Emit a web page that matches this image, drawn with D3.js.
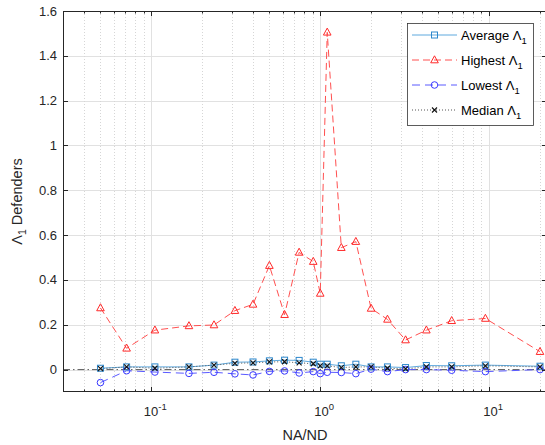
<!DOCTYPE html>
<html><head><meta charset="utf-8">
<script src="https://cdn.jsdelivr.net/npm/d3@7/dist/d3.min.js"></script>
<style>body{margin:0;background:#fff}svg{display:block;font-family:"Liberation Sans",Arial,sans-serif}</style>
</head><body><svg id="c" width="545" height="445"></svg>
<script>
const ratios = [0.05, 0.0714, 0.105, 0.167, 0.235, 0.3125, 0.4, 0.5, 0.615, 0.75, 0.909, 1.0, 1.1, 1.333, 1.625, 2.0, 2.5, 3.2, 4.25, 6.0, 9.5, 20];
const highest = [0.275, 0.095, 0.176, 0.195, 0.199, 0.263, 0.291, 0.464, 0.245, 0.523, 0.482, 0.340, 1.505, 0.544, 0.571, 0.273, 0.224, 0.132, 0.176, 0.218, 0.228, 0.08];
const average = [0.006, 0.012, 0.012, 0.012, 0.02, 0.033, 0.034, 0.039, 0.042, 0.041, 0.033, 0.024, 0.024, 0.017, 0.024, 0.012, 0.012, 0.009, 0.018, 0.017, 0.02, 0.015];
const median = [0.004, 0.012, 0.006, 0.012, 0.02, 0.028, 0.03, 0.034, 0.035, 0.03, 0.026, 0.017, 0.017, 0.009, 0.012, 0.012, 0.006, 0.003, 0.012, 0.012, 0.017, 0.012];
const lowest = [-0.058, -0.005, -0.011, -0.017, -0.012, -0.019, -0.024, -0.008, -0.006, -0.015, -0.009, -0.018, -0.012, -0.013, -0.018, 0.002, -0.009, 0.0, 0.0, -0.003, -0.009, 0.0];
const yTicks = [0, 0.2, 0.4, 0.6, 0.8, 1, 1.2, 1.4, 1.6];
const xMajor = [0.1, 1, 10];
const xMajorExp = ["-1", "0", "1"];
const xMinor = [0.03,0.04,0.05,0.06,0.07,0.08,0.09,0.2,0.3,0.4,0.5,0.6,0.7,0.8,0.9,2,3,4,5,6,7,8,9,20];
const legendNames = ["Average", "Highest", "Lowest", "Median"];

const svg = d3.select("#c");
const L = 63, R = 547, T = 11, B = 392;
const x = d3.scaleLog().domain([0.03, 22]).range([L, R]);
const y = d3.scaleLinear().domain([-0.1, 1.6]).range([B, T]);
const axisColor = "#262626";

svg.append("rect").attr("width",545).attr("height",445).attr("fill","#fff");
const g = svg.append("g");
// grid
g.selectAll(".gy").data(yTicks).join("line").attr("x1",L).attr("x2",R)
  .attr("y1",d=>Math.round(y(d))+0.5).attr("y2",d=>Math.round(y(d))+0.5).attr("stroke","#e1e1e1").attr("stroke-width",1);
g.selectAll(".gxm").data(xMinor).join("line").attr("y1",T).attr("y2",B)
  .attr("x1",d=>Math.round(x(d))+0.5).attr("x2",d=>Math.round(x(d))+0.5).attr("stroke","#d6d6d6").attr("stroke-width",1).attr("stroke-dasharray","1,2");
g.selectAll(".gx").data(xMajor).join("line").attr("y1",T).attr("y2",B)
  .attr("x1",d=>Math.round(x(d))+0.5).attr("x2",d=>Math.round(x(d))+0.5).attr("stroke","#e1e1e1").attr("stroke-width",1);

// zero line
g.append("line").attr("x1",L).attr("x2",R).attr("y1",y(0)).attr("y2",y(0))
  .attr("stroke","#333").attr("stroke-width",0.8).attr("stroke-dasharray","7,3,1.5,3");

const idx = d3.range(ratios.length);
const series = [
  {vals: average, color:"#5ea9de", mcolor:"#2c87cc", dash:null, marker:"square", width:1},
  {vals: highest, color:"#ff5050", mcolor:"#ff2a2a", dash:"7,4", marker:"triangle", width:1},
  {vals: lowest, color:"#5a5aff", mcolor:"#3a3aff", dash:"8,5", marker:"circle", width:1},
  {vals: median, color:"#555555", mcolor:"#111111", dash:"1,2", marker:"x", width:1}
];
function drawMarker(sel, type, color){
  if(type==="square") sel.append("rect").attr("x",-3).attr("y",-3).attr("width",6).attr("height",6).attr("fill","none").attr("stroke",color).attr("stroke-width",1);
  else if(type==="triangle") sel.append("path").attr("d","M0,-4.2L3.8,2.8L-3.8,2.8Z").attr("fill","none").attr("stroke",color).attr("stroke-width",1);
  else if(type==="circle") sel.append("circle").attr("r",3.3).attr("fill","none").attr("stroke",color).attr("stroke-width",1);
  else sel.append("path").attr("d","M-2.5,-2.5L2.5,2.5M-2.5,2.5L2.5,-2.5").attr("stroke",color).attr("stroke-width",1.1);
}
const line = d3.line();
series.forEach(s=>{
  g.append("path").attr("d", line(idx.map(i=>[x(ratios[i]), y(s.vals[i])])))
   .attr("fill","none").attr("stroke",s.color).attr("stroke-width",s.width)
   .attr("stroke-dasharray",s.dash);
});
series.forEach(s=>{
  idx.forEach(i=>{
    const m = g.append("g").attr("transform",`translate(${x(ratios[i])},${y(s.vals[i])})`);
    drawMarker(m, s.marker, s.mcolor);
  });
});

// axes box
svg.append("rect").attr("x",L+0.5).attr("y",T+0.5).attr("width",R-L-1).attr("height",B-T-1)
  .attr("fill","none").attr("stroke",axisColor).attr("stroke-width",1);
// ticks
const tk = svg.append("g").attr("stroke",axisColor).attr("stroke-width",1);
yTicks.forEach(v=>{
  const yy = Math.round(y(v))+0.5;
  tk.append("line").attr("x1",L).attr("x2",L+5).attr("y1",yy).attr("y2",yy);
  tk.append("line").attr("x1",R-5).attr("x2",R).attr("y1",yy).attr("y2",yy);
});
xMajor.forEach(v=>{
  const xx = Math.round(x(v))+0.5;
  tk.append("line").attr("x1",xx).attr("x2",xx).attr("y1",B).attr("y2",B-5);
  tk.append("line").attr("x1",xx).attr("x2",xx).attr("y1",T).attr("y2",T+5);
});
xMinor.forEach(v=>{
  const xx = Math.round(x(v))+0.5;
  tk.append("line").attr("x1",xx).attr("x2",xx).attr("y1",B).attr("y2",B-2.5);
  tk.append("line").attr("x1",xx).attr("x2",xx).attr("y1",T).attr("y2",T+2.5);
});
// tick labels
svg.selectAll(".yl").data(yTicks).join("text").attr("x",57).attr("y",d=>y(d)+4.5)
  .attr("text-anchor","end").attr("font-size",13).attr("fill",axisColor).text(d=>d3.format("")(d));
xMajor.forEach((v,i)=>{
  const t = svg.append("text").attr("x",x(v)+4).attr("y",416).attr("text-anchor","middle").attr("font-size",13).attr("fill",axisColor);
  t.append("tspan").text("10");
  t.append("tspan").attr("dy",-6).attr("font-size",9.5).text(xMajorExp[i]);
});
// axis labels
svg.append("text").attr("x",(L+R)/2).attr("y",440).attr("text-anchor","middle").attr("font-size",14.5).attr("fill",axisColor).text("NA/ND");
const yl = svg.append("text").attr("transform",`translate(22,${(T+B)/2}) rotate(-90)`).attr("text-anchor","middle").attr("font-size",14.5).attr("fill",axisColor);
yl.append("tspan").text("Λ");
yl.append("tspan").attr("dy",4).attr("font-size",10.5).text("1");
yl.append("tspan").attr("dy",-4).text(" Defenders");

// legend
const lg = svg.append("g");
lg.append("rect").attr("x",407.5).attr("y",23.5).attr("width",126).attr("height",102).attr("fill","#fff").attr("stroke","#333").attr("stroke-width",0.8);
series.forEach((s,i)=>{
  const yy = 35 + i*25;
  lg.append("line").attr("x1",412).attr("x2",457).attr("y1",yy).attr("y2",yy)
    .attr("stroke",s.color).attr("stroke-width",s.width).attr("stroke-dasharray",s.dash);
  drawMarker(lg.append("g").attr("transform",`translate(434.5,${yy})`), s.marker, s.mcolor);
  const t = lg.append("text").attr("x",461).attr("y",yy+4.5).attr("font-size",13).attr("fill","#000");
  t.append("tspan").text(legendNames[i]+" Λ");
  t.append("tspan").attr("dy",4).attr("font-size",9.5).text("1");
});
</script></body></html>
